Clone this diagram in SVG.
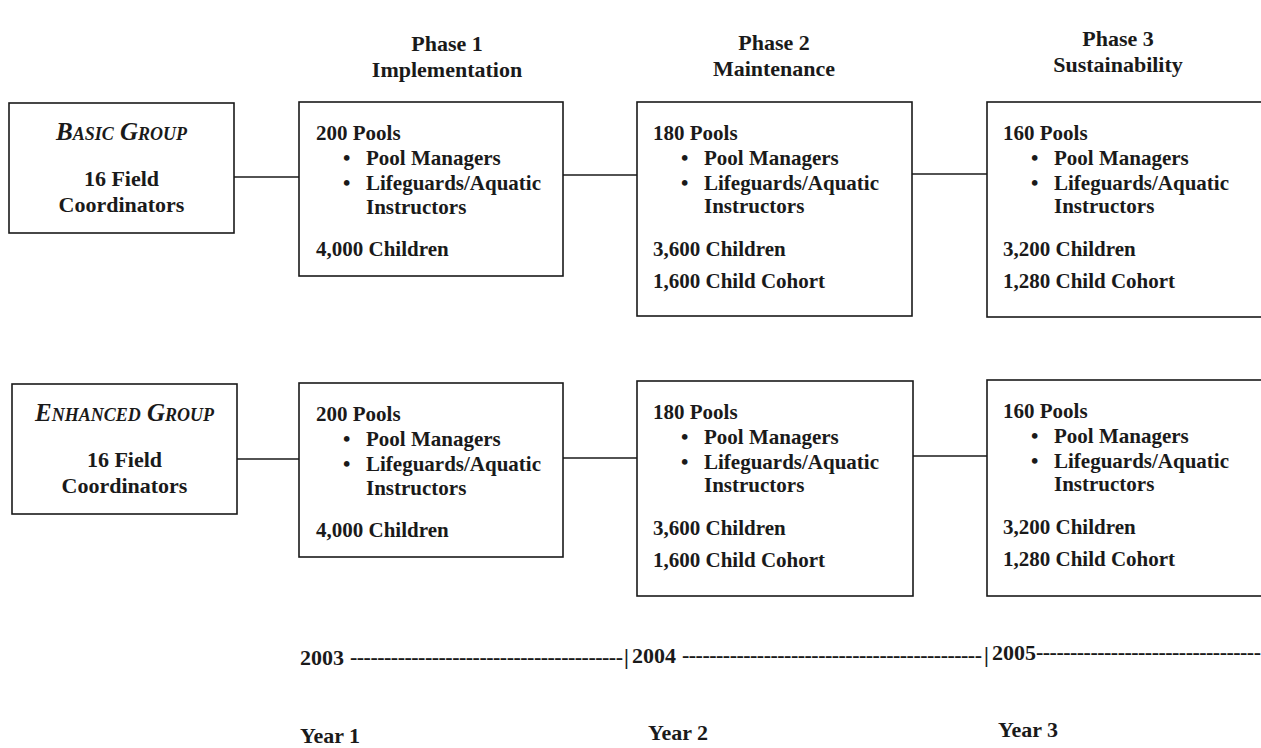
<svg xmlns="http://www.w3.org/2000/svg" width="1261" height="748" viewBox="0 0 1261 748">
<style>
text{font-family:"Liberation Serif","Times New Roman",serif;font-weight:bold;fill:#1a1a1a}
.box{fill:#fff;stroke:#1a1a1a;stroke-width:1.6}
.conn{stroke:#1a1a1a;stroke-width:1.3;fill:none}
.t{font-size:21px}
.l{font-size:22px;text-anchor:middle}
.g{font-size:25px;font-style:italic;font-variant:small-caps;text-anchor:middle}
.h{font-size:22px;text-anchor:middle}
.y{font-size:22px}
</style>
<rect width="1261" height="748" fill="#fff"/>
<g id="headings">
<text class="h" x="447" y="51">Phase 1</text>
<text class="h" x="447" y="77">Implementation</text>
<text class="h" x="774" y="50">Phase 2</text>
<text class="h" x="774" y="76">Maintenance</text>
<text class="h" x="1118" y="46">Phase 3</text>
<text class="h" x="1118" y="72">Sustainability</text>
</g>
<g id="connectors">
<line class="conn" x1="234" y1="177" x2="299" y2="177"/>
<line class="conn" x1="563" y1="175" x2="637" y2="175"/>
<line class="conn" x1="912" y1="174" x2="987" y2="174"/>
<line class="conn" x1="237" y1="459" x2="299" y2="459"/>
<line class="conn" x1="563" y1="458" x2="637" y2="458"/>
<line class="conn" x1="913" y1="456" x2="987" y2="456"/>
</g>
<g id="basic">
<rect class="box" x="9" y="103" width="225" height="130"/>
<text class="g" x="121.5" y="140">Basic Group</text>
<text class="l" x="121.5" y="186">16 Field</text>
<text class="l" x="121.5" y="212">Coordinators</text>
</g>
<g id="enhanced">
<rect class="box" x="12" y="384" width="225" height="130"/>
<text class="g" x="124.5" y="421">Enhanced Group</text>
<text class="l" x="124.5" y="467">16 Field</text>
<text class="l" x="124.5" y="493">Coordinators</text>
</g>
<g id="basic-phase1">
<rect class="box" x="299" y="102" width="264" height="174"/>
<text class="t" x="316" y="140">200 Pools</text>
<text class="t" x="343" y="165">•</text><text class="t" x="366" y="165">Pool Managers</text>
<text class="t" x="343" y="190">•</text><text class="t" x="366" y="190">Lifeguards/Aquatic</text>
<text class="t" x="366" y="214">Instructors</text>
<text class="t" x="316" y="256">4,000 Children</text>
</g>
<g id="basic-phase2">
<rect class="box" x="637" y="102" width="275" height="214"/>
<text class="t" x="653" y="140">180 Pools</text>
<text class="t" x="681" y="165">•</text><text class="t" x="704" y="165">Pool Managers</text>
<text class="t" x="681" y="190">•</text><text class="t" x="704" y="190">Lifeguards/Aquatic</text>
<text class="t" x="704" y="213">Instructors</text>
<text class="t" x="653" y="256">3,600 Children</text>
<text class="t" x="653" y="288">1,600 Child Cohort</text>
</g>
<g id="basic-phase3">
<rect class="box" x="987" y="102" width="300" height="215"/>
<text class="t" x="1003" y="140">160 Pools</text>
<text class="t" x="1031" y="165">•</text><text class="t" x="1054" y="165">Pool Managers</text>
<text class="t" x="1031" y="190">•</text><text class="t" x="1054" y="190">Lifeguards/Aquatic</text>
<text class="t" x="1054" y="213">Instructors</text>
<text class="t" x="1003" y="256">3,200 Children</text>
<text class="t" x="1003" y="288">1,280 Child Cohort</text>
</g>
<g id="enhanced-phase1">
<rect class="box" x="299" y="383" width="264" height="174"/>
<text class="t" x="316" y="421">200 Pools</text>
<text class="t" x="343" y="446">•</text><text class="t" x="366" y="446">Pool Managers</text>
<text class="t" x="343" y="471">•</text><text class="t" x="366" y="471">Lifeguards/Aquatic</text>
<text class="t" x="366" y="495">Instructors</text>
<text class="t" x="316" y="537">4,000 Children</text>
</g>
<g id="enhanced-phase2">
<rect class="box" x="637" y="381" width="276" height="215"/>
<text class="t" x="653" y="419">180 Pools</text>
<text class="t" x="681" y="444">•</text><text class="t" x="704" y="444">Pool Managers</text>
<text class="t" x="681" y="469">•</text><text class="t" x="704" y="469">Lifeguards/Aquatic</text>
<text class="t" x="704" y="492">Instructors</text>
<text class="t" x="653" y="535">3,600 Children</text>
<text class="t" x="653" y="567">1,600 Child Cohort</text>
</g>
<g id="enhanced-phase3">
<rect class="box" x="987" y="380" width="300" height="216"/>
<text class="t" x="1003" y="418">160 Pools</text>
<text class="t" x="1031" y="443">•</text><text class="t" x="1054" y="443">Pool Managers</text>
<text class="t" x="1031" y="468">•</text><text class="t" x="1054" y="468">Lifeguards/Aquatic</text>
<text class="t" x="1054" y="491">Instructors</text>
<text class="t" x="1003" y="534">3,200 Children</text>
<text class="t" x="1003" y="566">1,280 Child Cohort</text>
</g>
<g id="timeline">
<text class="y" x="300" y="665">2003</text>
<text class="y" x="350" y="664" textLength="273" lengthAdjust="spacing">----------------------------------------</text>
<text class="y" x="624" y="664">|</text>
<text class="y" x="632" y="663">2004</text>
<text class="y" x="682" y="662" textLength="300" lengthAdjust="spacing">--------------------------------------------</text>
<text class="y" x="984" y="662">|</text>
<text class="y" x="992" y="660">2005</text>
<text class="y" x="1036" y="659" textLength="225" lengthAdjust="spacing">---------------------------------</text>
<text class="y" x="300" y="743">Year 1</text>
<text class="y" x="648" y="740">Year 2</text>
<text class="y" x="998" y="737">Year 3</text>
</g>
</svg>
